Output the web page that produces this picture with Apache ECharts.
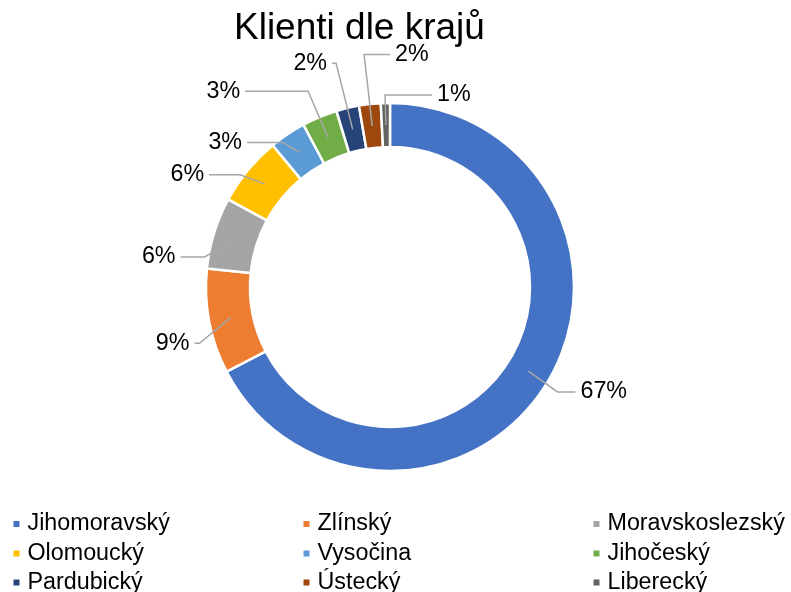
<!DOCTYPE html>
<html>
<head>
<meta charset="utf-8">
<script src="https://cdn.jsdelivr.net/npm/echarts@6/dist/echarts.min.js"></script>
<style>
  html, body { margin: 0; padding: 0; background: #fff; }
  #chart { width: 791px; height: 592px; }
</style>
</head>
<body>
<div id="chart"></div>
<script>
const regions = ['Jihomoravský', 'Zlínský', 'Moravskoslezský', 'Olomoucký', 'Vysočina', 'Jihočeský', 'Pardubický', 'Ústecký', 'Liberecký']
const shares = [67.4, 9.2, 6.3, 6.1, 3.2, 3.1, 2.0, 1.9, 0.8]
const colorList = ['#4472c4', '#ed7d31', '#a5a5a5', '#ffc000', '#5b9bd5', '#70ad47', '#264478', '#9e480e', '#636363']

const center = [390, 287]
const outerR = 184
const innerR = 140
// Excel starts the leader lines in the middle of the ring
const midR = (outerR + innerR) / 2

// leader line [length, length2] per slice, Excel moved the small ones up
const lineLen = [[12, 18], [10, 5], [10, 24], [10, 31], [8, 36], [30, 63], [50, 4], [52, 26], [12, 47]]
// labels sit a bit lower than the radial end in Excel
const labelDy = [3, 20, 27, 11, 15, 2, 4, 2, 4]
// these two point to the right in Excel although they sit left of 12 o'clock
const flipRight = [7, 8]

const font = '"Liberation Sans", Arial, sans-serif'

// legend grid 3x3, Excel fills it row by row
const colLeft = [11.5, 301.5, 591.5]
const rowTop = [512, 541.5, 570.5]
const legends = regions.map((name, i) => ({
  left: colLeft[i % 3],
  top: rowTop[Math.floor(i / 3)],
  padding: 0,
  icon: 'rect',
  itemWidth: 8,
  itemHeight: 8,
  itemGap: 0,
  selectedMode: false,
  textStyle: { fontFamily: font, fontSize: 23.3, lineHeight: 24, color: '#000', padding: [0, 0, 0, 2] },
  data: [name]
}))

const chart = echarts.init(document.getElementById('chart'))
chart.setOption({
  animation: false,
  title: {
    text: 'Klienti dle krajů',
    left: 229,
    top: 5,
    textStyle: { fontFamily: font, fontSize: 37, fontWeight: 'normal', color: '#000' }
  },
  legend: legends,
  series: [
    {
      // the ring itself
      type: 'pie',
      center: center,
      radius: [innerR, outerR],
      startAngle: 90,
      clockwise: true,
      silent: true,
      itemStyle: {
        borderColor: '#fff',
        borderWidth: 2.5
      },
      label: { show: false },
      labelLine: { show: false },
      data: regions.map((name, i) => ({
        name,
        value: shares[i],
        itemStyle: { color: colorList[i] }
      }))
    },
    {
      // same ring, transparent and on top, only carries labels and leader lines
      type: 'pie',
      z: 3,
      center: center,
      radius: [innerR, outerR],
      startAngle: 90,
      clockwise: true,
      silent: true,
      avoidLabelOverlap: false,
      itemStyle: { color: 'rgba(0,0,0,0)', borderWidth: 0 },
      label: {
        show: true,
        position: 'outside',
        fontFamily: font,
        fontSize: 23.3,
        color: '#000',
        formatter: (p) => Math.round(p.percent) + '%'
      },
      labelLine: {
        show: true,
        lineStyle: { color: '#a6a6a6', width: 1.5 }
      },
      labelLayout: (p) => {
        const i = p.dataIndex
        const pts = p.labelLinePoints
        if (!pts) return {}
        const dy = labelDy[i]
        const k = midR / outerR
        const p0 = [center[0] + (pts[0][0] - center[0]) * k, center[1] + (pts[0][1] - center[1]) * k]
        const p1 = [pts[1][0], pts[1][1] + dy]
        if (flipRight.indexOf(i) >= 0) {
          const end = [p1[0] + lineLen[i][1], p1[1]]
          return {
            x: end[0] + 5,
            y: end[1],
            align: 'left',
            verticalAlign: 'middle',
            labelLinePoints: [p0, p1, end]
          }
        }
        return {
          dy: dy,
          labelLinePoints: [p0, p1, [pts[2][0], pts[2][1] + dy]]
        }
      },
      data: regions.map((name, i) => ({
        name,
        value: shares[i],
        labelLine: { length: lineLen[i][0], length2: lineLen[i][1] }
      }))
    }
  ]
})
</script>
</body>
</html>
